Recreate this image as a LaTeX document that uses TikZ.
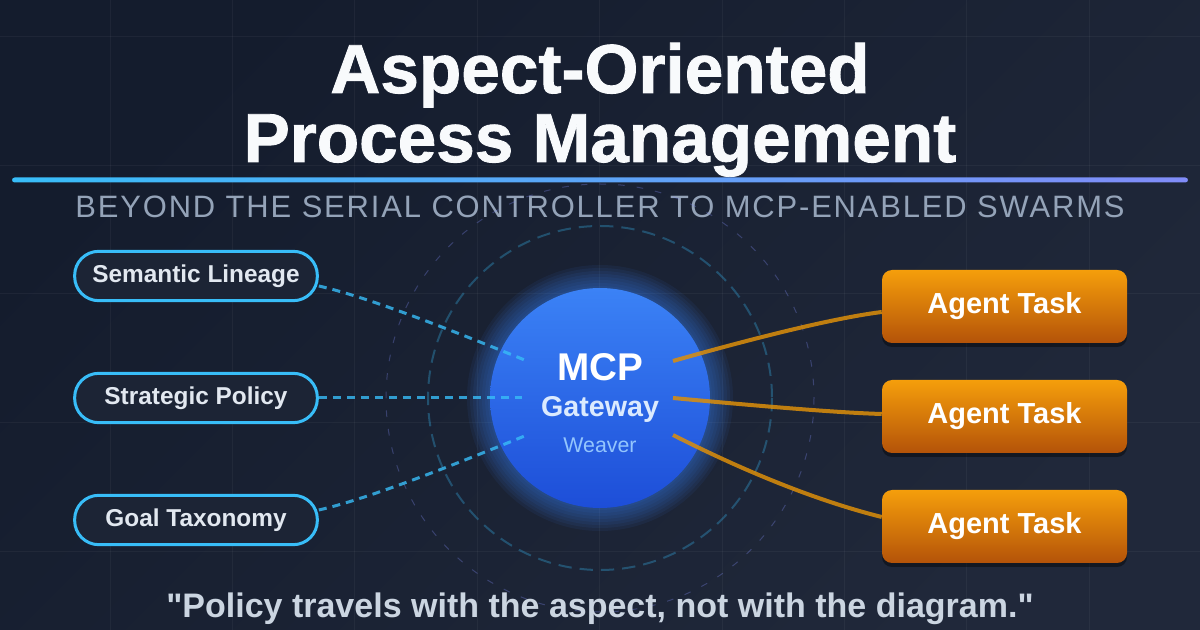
\documentclass[tikz,border=0pt]{standalone}
\usepackage{fontspec}
\setmainfont{Liberation Sans}
\newfontfamily\headfont{Liberation Sans}[BoldFeatures={FakeBold=1.2}]
\newfontfamily\capsfont[LetterSpace=6]{Liberation Sans}
\newfontfamily\plainfont{Liberation Sans}
\usetikzlibrary{positioning,shadows,calc}
\definecolor{night}{RGB}{20,28,45}
\definecolor{dusk}{RGB}{32,40,58}
\definecolor{panel}{RGB}{28,36,53}
\definecolor{sky}{RGB}{56,189,248}
\definecolor{cornflower}{RGB}{96,165,250}
\definecolor{indigo}{RGB}{129,140,248}
\definecolor{azure}{RGB}{59,130,246}
\definecolor{royal}{RGB}{29,78,216}
\definecolor{amber}{RGB}{245,158,11}
\definecolor{rust}{RGB}{180,83,9}
\definecolor{mist}{RGB}{148,163,184}
\definecolor{frost}{RGB}{226,232,240}
\definecolor{paleblue}{RGB}{219,234,254}
\definecolor{softblue}{RGB}{147,197,253}
\definecolor{cloud}{RGB}{203,213,225}
\definecolor{snow}{RGB}{248,250,252}
\tikzset{
  gridline/.style={draw=white,draw opacity=0.045,line width=0.75pt},
  headline/.style={anchor=base,text=snow,inner sep=0pt,
    font=\headfont\bfseries\fontsize{52}{60}\selectfont},
  tagline/.style={anchor=base,text=mist,inner sep=0pt,
    font=\capsfont\fontsize{23.2}{27}\selectfont},
  aspect/.style={draw=sky,line width=2.25pt,fill=panel,rounded corners=18pt,
    minimum width=182pt,minimum height=37pt,inner sep=0pt,text=frost,
    text height=13pt,text depth=3.5pt,
    font=\bfseries\fontsize{18.3}{21}\selectfont},
  agent/.style={top color=amber,bottom color=rust,rounded corners=7.5pt,
    minimum width=183.75pt,minimum height=54.75pt,inner sep=0pt,text=white,
    font=\bfseries\fontsize{21.75}{26}\selectfont,
    drop shadow={fill=black,opacity=0.4,shadow xshift=0pt,shadow yshift=-3pt}},
  hub/.style={circle,minimum size=165pt,inner sep=0pt,top color=azure,bottom color=royal},
  halo/.style={fill=azure,fill opacity=0.07},
  ring/.style={draw=sky,draw opacity=0.3,line width=1.5pt,dash pattern=on 10pt off 6pt},
  orbit/.style={draw=indigo,draw opacity=0.3,line width=0.75pt,dash pattern=on 5pt off 9pt},
  thread/.style={draw=sky,draw opacity=0.8,line width=2.25pt,dash pattern=on 6pt off 4.5pt},
  strand/.style={draw=amber!90!black,draw opacity=0.85,line width=3pt},
  hubtext/.style={anchor=base,inner sep=0pt,text=#1},
  hubtext/.default=white,
  quote/.style={anchor=base,inner sep=0pt,text=cloud,
    font=\plainfont\bfseries\fontsize{25.5}{30}\selectfont},
}

\begin{document}
\begin{tikzpicture}[x=0.75pt,y=-0.75pt]
  \useasboundingbox (0,0) rectangle (1200,630);
  \shade[top color=night,bottom color=dusk,shading angle=45] (0,0) rectangle (1200,630);
  \foreach \i in {0,...,8}
    \draw[gridline] ({110+122.4*\i},0) -- ({110+122.4*\i},630);
  \foreach \j in {0,...,4}
    \draw[gridline] (0,{36.7+128.6*\j}) -- (1200,{36.7+128.6*\j});

  % heading
  \node[headline] (head1) at (600,93) {Aspect-Oriented};
  \node[headline] (head2) at (600,162) {Process Management};
  \shade[left color=sky,middle color=cornflower,right color=indigo,rounded corners=2pt]
    (12,177.5) rectangle (1188,182.5);
  \node[tagline] (sub) at (600,218) {BEYOND THE SERIAL CONTROLLER TO MCP-ENABLED SWARMS};

  % gateway
  \coordinate (core) at (600,398);
  \draw[ring] (core) circle (172);
  \draw[orbit] (core) circle (214);
  \foreach \r in {112,115,...,133}
    \fill[halo] (core) circle (\r);
  \node[hub] (gw) at (core) {};
  \node[hubtext,font=\bfseries\fontsize{29}{34}\selectfont] (mcp) at (600,381) {MCP};
  \node[hubtext=paleblue,font=\bfseries\fontsize{21.5}{26}\selectfont] (gwy) at (600,417) {Gateway};
  \node[hubtext=softblue,font=\fontsize{16}{19}\selectfont] (wvr) at (600,453) {Weaver};

  % aspects
  \node[aspect] (lin) at (196,276) {Semantic Lineage};
  \node[aspect] (pol) at (196,398) {Strategic Policy};
  \node[aspect] (tax) at (196,520) {Goal Taxonomy};

  % agents
  \foreach \n/\y in {1/306.5,2/416.5,3/526.5}
    \node[agent] (a\n) at (1004.5,\y) {Agent Task};

  \draw[thread] ([shift={(0,10)}]lin.east) .. controls +(40,9) and +(-100,-41) .. ([shift={(-73,-37)}]gw.center);
  \draw[thread] (pol.east) -- ([shift={(-78,0)}]gw.center);
  \draw[thread] ([shift={(0,-10)}]tax.east) .. controls +(40,-9) and +(-100,41) .. ([shift={(-73,37)}]gw.center);

  \draw[strand] ([shift={(73,-37)}]gw.center) .. controls +(99,-28) and +(-40,5) .. ([shift={(0,5.5)}]a1.west);
  \draw[strand] ([shift={(73,0)}]gw.center) .. controls +(97,9) and +(-43,-1.3) .. ([shift={(0,-2.5)}]a2.west);
  \draw[strand] ([shift={(73,37)}]gw.center) .. controls +(79,40) and +(-60,-15) .. ([shift={(0,-9.5)}]a3.west);

  \node[quote] (motto) at (600,618) {"Policy travels with the aspect, not with the diagram."};
\end{tikzpicture}
\end{document}
